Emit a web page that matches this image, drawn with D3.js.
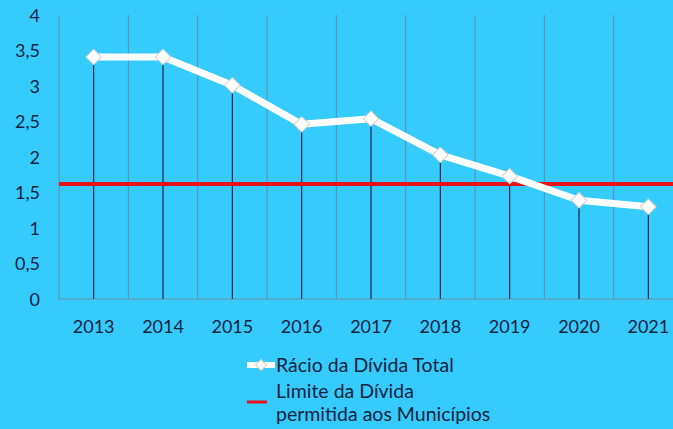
<!DOCTYPE html>
<html><head><meta charset="utf-8">
<script src="https://cdn.jsdelivr.net/npm/d3@7"></script>
<style>
html,body{margin:0;padding:0;background:#36CBFD;overflow:hidden;}
svg{display:block;}
text{font-family:Lato,"Open Sans",sans-serif;fill:#14233f;}
</style></head>
<body>
<svg id="c" width="673" height="429"></svg>
<script>
const years = ["2013","2014","2015","2016","2017","2018","2019","2020","2021"];
const ratio = [3.41, 3.41, 3.01, 2.46, 2.54, 2.03, 1.73, 1.39, 1.30];
const limit = 1.62;
const yTicks = [0, 0.5, 1, 1.5, 2, 2.5, 3, 3.5, 4];
const seriesNames = ["Rácio da Dívida Total", "Limite da Dívida", "permitida aos Municípios"];

const svg = d3.select("#c");
const W = 673, H = 429;
svg.append("rect").attr("width", W).attr("height", H).attr("fill", "#36CBFD");

const x = d3.scaleBand().domain(years).range([59, 683]).paddingInner(0).paddingOuter(0);
const y = d3.scaleLinear().domain([0, 4]).range([299, 15]);
const fmt = d => String(d).replace(".", ",");

// vertical gridlines at category boundaries
const bounds = years.map(d => x(d)).concat([x(years[years.length-1]) + x.bandwidth()]);
svg.append("g").selectAll("line").data(bounds).join("line")
  .attr("x1", d => d).attr("x2", d => d).attr("y1", y(4)).attr("y2", y(0))
  .attr("stroke", "#5f8ea6").attr("stroke-width", 1);

// baseline
svg.append("line").attr("x1", 59).attr("x2", 683).attr("y1", y(0)).attr("y2", y(0))
  .attr("stroke", "#6f8fa0").attr("stroke-width", 1);

// y axis labels
const yAxis = d3.axisLeft(y).tickValues(yTicks).tickFormat(fmt).tickSize(0).tickPadding(0);
const ga = svg.append("g").attr("transform", "translate(40,0)").call(yAxis);
ga.select(".domain").remove();
ga.selectAll("text").style("font-size", "18px").attr("fill", "#14233f").attr("dy", "0.35em")
  .style("font-family", "Lato, sans-serif");

// x axis labels
const xAxis = d3.axisBottom(x).tickSize(0).tickPadding(0);
const gx = svg.append("g").attr("transform", "translate(0,320)").call(xAxis);
gx.select(".domain").remove();
gx.selectAll("text").style("font-size", "18px").attr("fill", "#14233f").attr("dy", "0.71em")
  .style("font-family", "Lato, sans-serif");

const cx = d => x(d) + x.bandwidth() / 2;

// drop lines
svg.append("g").selectAll("line").data(years).join("line")
  .attr("x1", d => cx(d)).attr("x2", d => cx(d))
  .attr("y1", (d, i) => y(ratio[i])).attr("y2", y(0))
  .attr("stroke", "#141432").attr("stroke-width", 1.1);

// limit line
svg.append("line").attr("x1", 59).attr("x2", 683).attr("y1", y(limit)).attr("y2", y(limit))
  .attr("stroke", "#e8111b").attr("stroke-width", 4);

// ratio line
const line = d3.line().x((d, i) => cx(years[i])).y(d => y(d));
svg.append("path").datum(ratio).attr("d", line).attr("fill", "none")
  .attr("stroke", "#ffffff").attr("stroke-width", 7).attr("stroke-linejoin", "round");

// markers
svg.append("g").selectAll("path").data(ratio).join("path")
  .attr("d", d3.symbol().type(d3.symbolSquare).size(120))
  .attr("transform", (d, i) => `translate(${cx(years[i])},${y(d)}) rotate(45)`)
  .attr("fill", "#ffffff").attr("stroke", "#d8d0c4").attr("stroke-width", 1);

// legend
const lg = svg.append("g");
lg.append("line").attr("x1", 247).attr("x2", 275).attr("y1", 365).attr("y2", 365)
  .attr("stroke", "#ffffff").attr("stroke-width", 6);
lg.append("path").attr("d", d3.symbol().type(d3.symbolSquare).size(60))
  .attr("transform", "translate(261,365) rotate(45)")
  .attr("fill", "#ffffff").attr("stroke", "#d8d0c4").attr("stroke-width", 1);
lg.append("text").attr("x", 276).attr("y", 365).attr("dy", "0.35em").style("font-size", "19.5px").text(seriesNames[0]);
lg.append("line").attr("x1", 247).attr("x2", 267).attr("y1", 402).attr("y2", 402)
  .attr("stroke", "#e8111b").attr("stroke-width", 3);
lg.append("text").attr("x", 276).attr("y", 391).attr("dy", "0.35em").style("font-size", "19.5px").text(seriesNames[1]);
lg.append("text").attr("x", 276).attr("y", 414).attr("dy", "0.35em").style("font-size", "19.5px").text(seriesNames[2]);
</script>
</body></html>
